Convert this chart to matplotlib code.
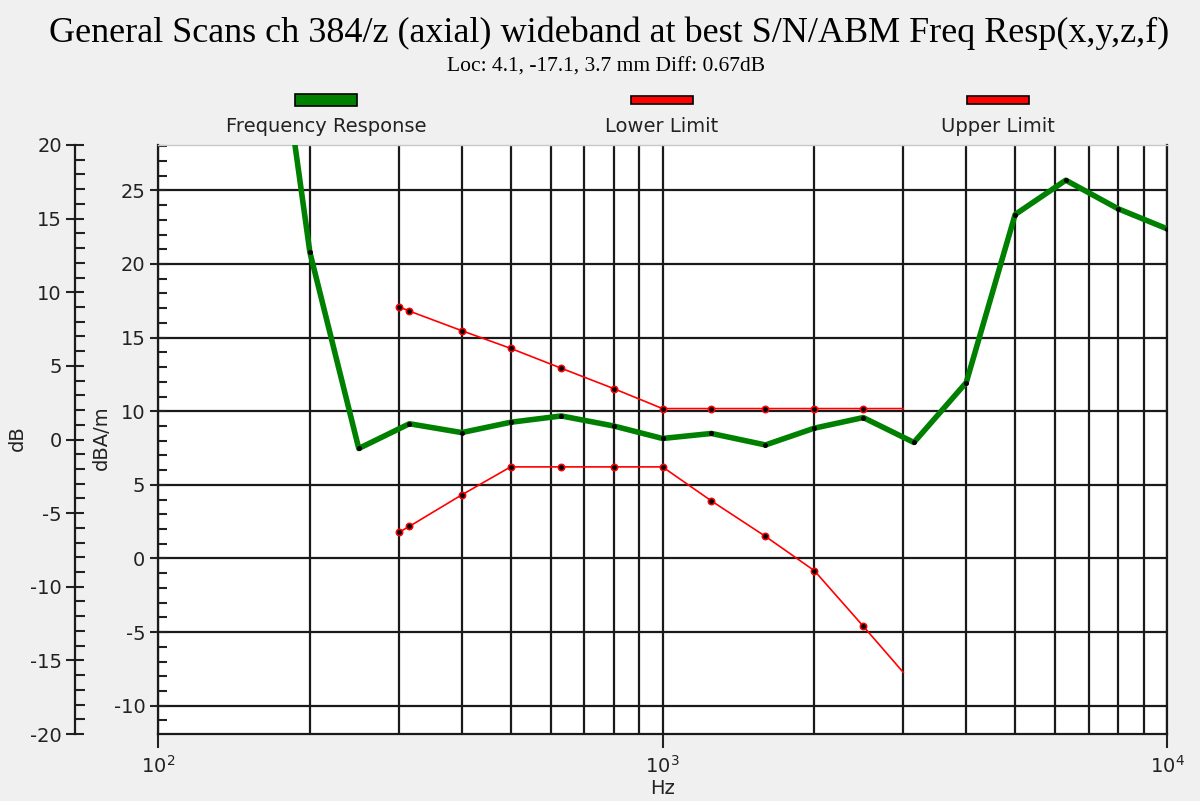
import matplotlib
matplotlib.use("Agg")
import matplotlib.pyplot as plt
from matplotlib.ticker import MultipleLocator, LogLocator, NullFormatter
from matplotlib.patches import Rectangle

plt.rcParams["axes.unicode_minus"] = False

# ---------------- data ----------------
fr_hz = [160, 200, 250, 315, 400, 500, 630, 800, 1000, 1250, 1600, 2000,
         2500, 3150, 4000, 5000, 6300, 8000, 10000]
fr_db = [44.7, 20.8, 7.47, 9.15, 8.55, 9.25, 9.68, 9.0, 8.15, 8.49, 7.71, 8.85,
         9.57, 7.88, 11.95, 23.36, 25.69, 23.75, 22.39]

lim_hz = [300, 315, 400, 500, 630, 800, 1000, 1250, 1600, 2000, 2500, 3000]
upper_db = [17.1, 16.8, 15.47, 14.27, 12.92, 11.54, 10.18, 10.18, 10.18, 10.18, 10.18, 10.18]
lower_db = [1.77, 2.18, 4.32, 6.22, 6.22, 6.22, 6.22, 3.91, 1.5, -0.83, -4.6, -7.73]

legend_labels = ["Frequency Response", "Lower Limit", "Upper Limit"]
title = "General Scans ch 384/z (axial) wideband at best S/N/ABM Freq Resp(x,y,z,f)"
subtitle = "Loc: 4.1, -17.1, 3.7 mm Diff: 0.67dB"

# ---------------- figure ----------------
W, H = 1200, 801
fig = plt.figure(figsize=(W / 100, H / 100), dpi=100, facecolor="#f0f0f0")

def fx(px):
    return px / W

def fy(py):
    return 1 - py / H

top_px, bot_px, left_px, right_px = 145, 734, 158, 1167
ax = fig.add_axes([fx(left_px), fy(bot_px), fx(right_px - left_px), (bot_px - top_px) / H])
ax.set_facecolor("white")
ax.set_xscale("log")
ax.set_xlim(100, 10000)
ax.set_ylim(-11.92, 28.08)

ax.yaxis.set_major_locator(MultipleLocator(5))
ax.yaxis.set_minor_locator(MultipleLocator(1))
ax.xaxis.set_major_locator(LogLocator(base=10))
ax.xaxis.set_minor_locator(LogLocator(base=10, subs=range(2, 10)))
ax.xaxis.set_minor_formatter(NullFormatter())

gridc = "#1a1a1a"
ax.grid(which="major", axis="both", color=gridc, lw=1.6)
ax.grid(which="minor", axis="x", color=gridc, lw=1.6)
ax.set_axisbelow(True)

ax.tick_params(axis="x", which="major", direction="out", length=10, width=1.5,
               pad=5, labelsize=14, colors="#222222")
ax.tick_params(axis="x", which="minor", length=0)
ax.tick_params(axis="y", which="major", direction="inout", length=12, width=1.5,
               pad=3, labelsize=14, colors="#222222")
ax.tick_params(axis="y", which="minor", direction="in", length=6.5, width=1.5,
               colors="#222222")
for lab in ax.get_xticklabels() + ax.get_yticklabels():
    lab.set_family("DejaVu Sans")

for s in ["left", "bottom", "right"]:
    ax.spines[s].set_color("#1a1a1a")
    ax.spines[s].set_linewidth(1.6)
ax.spines["top"].set_color("#c8c8c8")
ax.spines["top"].set_linewidth(1.0)

# data lines
ax.plot(fr_hz, fr_db, color="#008000", lw=4.0, marker="o", ms=2.6,
        mfc="black", mec="black", zorder=4, solid_joinstyle="round")
ax.plot(lim_hz, upper_db, color="red", lw=1.2, marker="o", ms=4.6,
        mfc="black", mec="red", mew=1.1, markevery=slice(0, len(lim_hz) - 1), zorder=3)
ax.plot(lim_hz, lower_db, color="red", lw=1.2, marker="o", ms=4.6,
        mfc="black", mec="red", mew=1.1, markevery=slice(0, len(lim_hz) - 1), zorder=3)

# outer dB axis
ax2 = fig.add_axes([fx(75), fy(bot_px), 0.0001, (bot_px - top_px) / H])
ax2.set_facecolor("none")
ax2.set_ylim(-20, 20)
ax2.yaxis.set_major_locator(MultipleLocator(5))
ax2.yaxis.set_minor_locator(MultipleLocator(1))
ax2.set_xticks([])
for s in ["top", "bottom", "right"]:
    ax2.spines[s].set_visible(False)
ax2.spines["left"].set_color("#1a1a1a")
ax2.spines["left"].set_linewidth(1.6)
ax2.tick_params(axis="y", which="major", direction="inout", length=13, width=1.5,
                pad=3, labelsize=14, colors="#222222")
ax2.tick_params(axis="y", which="minor", direction="in", length=7, width=1.5,
                colors="#222222")

# axis labels
fig.text(fx(17), fy(438), "dB", rotation=90, ha="center", va="center",
         fontsize=14, family="DejaVu Sans", color="#222222")
fig.text(fx(101), fy(438), "dBA/m", rotation=90, ha="center", va="center",
         fontsize=14, family="DejaVu Sans", color="#222222")
fig.text(fx(663), fy(789), "Hz", ha="center", va="center",
         fontsize=14, family="DejaVu Sans", color="#222222")

# titles
fig.text(fx(609), fy(33), title, ha="center", va="center", fontsize=26,
         family="Liberation Serif", color="black")
fig.text(fx(606), fy(67), subtitle, ha="center", va="center", fontsize=15.5,
         family="Liberation Serif", color="black")

# legend
leg_colors = ["#008000", "red", "red"]
leg_centers = [326, 662, 998]
leg_heights = [11, 7.5, 7.5]
for lab, col, cx, hh in zip(legend_labels, leg_colors, leg_centers, leg_heights):
    fig.add_artist(Rectangle((fx(cx - 31), fy(100 + hh / 2)), 62 / W, hh / H,
                             transform=fig.transFigure, facecolor=col,
                             edgecolor="black", lw=1.2))
    fig.text(fx(cx), fy(127), lab, ha="center", va="center", fontsize=14,
             family="DejaVu Sans", color="#222222")

fig.savefig("out.png", dpi=100, facecolor=fig.get_facecolor())
